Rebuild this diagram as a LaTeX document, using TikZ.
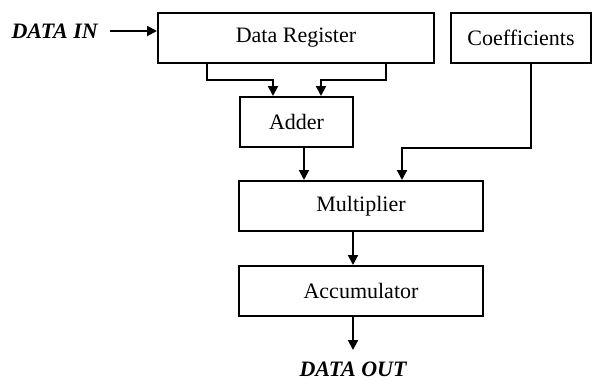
\documentclass[tikz,border=0pt]{standalone}
\usepackage{fontspec}
\setmainfont{Liberation Serif}
\usetikzlibrary{arrows.meta}
\begin{document}
\begin{tikzpicture}[x=1pt,y=-1pt,
  blk/.style={draw,line width=2pt,inner sep=0pt,font=\fontsize{22}{26}\selectfont},
  conn/.style={line width=2pt,-{Triangle[length=10pt,width=10pt]}},
  lab/.style={font=\fontsize{22}{26}\selectfont\bfseries\itshape,inner sep=0pt}]
\useasboundingbox (0,0) rectangle (593,380);
\node[blk,minimum width=276pt,minimum height=50pt] (dr) at (296,38) {Data Register};
\node[blk,minimum width=140pt,minimum height=50pt] (co) at (521,38) {Coefficients};
\node[blk,minimum width=113pt,minimum height=50pt] (ad) at (296.5,122) {Adder};
\node[blk,minimum width=244pt,minimum height=50pt] (mu) at (361,206) {Multiplier};
\node[blk,minimum width=244pt,minimum height=50pt] (ac) at (361,291) {Accumulator};
\node[lab,anchor=east] (din) at (98,31) {DATA IN};
\node[lab] (dout) at (353,369) {DATA OUT};
\coordinate (doutp) at (353,350);
\draw[conn] ([xshift=12pt]din.east) -- (dr.west |- din.east);
\draw[conn] (dr.south -| 207,0) |- (273,80) -- (ad.north -| 273,0);
\draw[conn] (dr.south -| 386,0) |- (321,80) -- (ad.north -| 321,0);
\draw[conn] (ad.south -| 304,0) -- (mu.north -| 304,0);
\draw[conn] (co.south -| 531,0) |- (402,148) -- (mu.north -| 402,0);
\draw[conn] (mu.south -| 353,0) -- (ac.north -| 353,0);
\draw[conn] (ac.south -| 353,0) -- (doutp);
\end{tikzpicture}
\end{document}
